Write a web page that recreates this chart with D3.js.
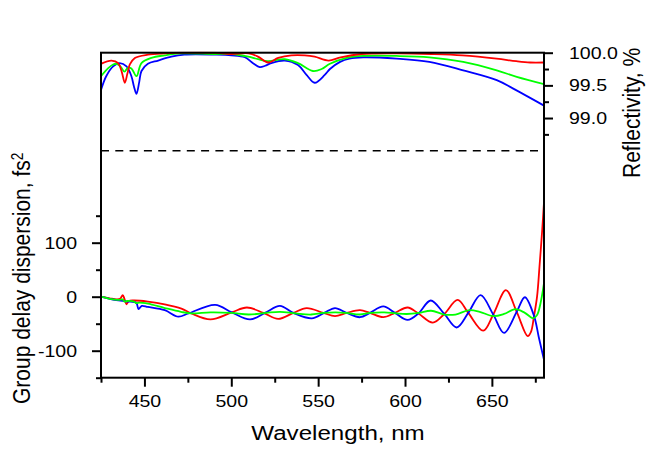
<!DOCTYPE html>
<html><head><meta charset="utf-8">
<script src="https://cdn.jsdelivr.net/npm/d3@7"></script>
<style>body{margin:0;background:#fff}svg{display:block}</style>
</head><body>
<script>
// ---- tick values ----
const wlTicksMajor = [450, 500, 550, 600, 650];
const wlTicksMinor = [425, 475, 525, 575, 625, 675];
const gddTicksMajor = [-100, 0, 100];
const gddTicksMinor = [-150, -50, 50, 150];
const reflTicksMajor = [99.0, 99.5, 100.0];
const reflTicksMinor = [98.75, 99.25, 99.75];

// ---- reflectivity (%) : [wavelength nm, R] ----
const reflRed = [[425,99.83],[431,99.88],[434.9,99.84],[437,99.70],[438.7,99.54],[440.2,99.68],[441.6,99.82],[444.5,99.92],[452,99.97],[462,99.99],[471.3,100.0],[490,100.0],[500,99.98],[510,99.99],[515.4,99.94],[521.2,99.85],[527,99.92],[534.6,99.96],[542.3,99.96],[548,99.94],[556,99.88],[563,99.93],[575,99.98],[595,99.99],[615,99.98],[633,99.96],[652.7,99.91],[664,99.87],[672,99.85],[680,99.85]];
const reflGreen = [[425,99.64],[429,99.76],[432,99.82],[434,99.83],[436.5,99.78],[438.5,99.71],[440.5,99.77],[442.5,99.76],[445.4,99.64],[448.3,99.84],[454,99.92],[461.7,99.96],[471,99.99],[490,99.98],[500,99.98],[509.7,99.94],[515.4,99.90],[521,99.87],[530.8,99.90],[538.4,99.84],[547,99.72],[552,99.75],[556.8,99.83],[566.5,99.92],[576,99.95],[595,99.95],[614,99.93],[633.5,99.86],[652.8,99.73],[664.3,99.63],[680,99.52]];
const reflBlue = [[425,99.43],[428,99.64],[432,99.79],[435.8,99.84],[439.7,99.79],[442.5,99.64],[444,99.48],[445.4,99.37],[447,99.55],[448.3,99.72],[452,99.83],[457.9,99.88],[465.5,99.94],[473,99.97],[490.5,99.97],[500,99.96],[507.8,99.93],[512.5,99.84],[516.4,99.78],[519.5,99.80],[523,99.84],[530.8,99.88],[538.4,99.81],[543.3,99.66],[548,99.54],[553.8,99.66],[556.8,99.75],[562.6,99.86],[568,99.91],[576,99.93],[595.2,99.91],[614,99.86],[633.5,99.73],[652.8,99.58],[662.3,99.45],[680,99.19]];

// ---- group delay dispersion (fs^2) : [wavelength nm, GDD] ----
const gddRed = [[425,0],[430,-3],[434,-5],[436,-4],[437.5,3],[438.5,-4],[439.7,-14],[441,-8],[444,-7],[452,-9],[461.7,-14],[471.3,-22],[477,-31],[488,-42],[500.3,-29],[509,-20],[518.5,-30],[527,-41],[535.7,-30],[543.4,-21],[553,-30],[559.7,-36],[566.4,-30],[574.1,-25],[579.8,-30],[587.5,-38],[594.2,-30],[601.5,-20],[607.7,-31],[616,-48],[622.6,-32],[630.3,-6],[636.4,-30],[645,-63],[650.8,-33],[658.1,12],[664.3,-28],[670.6,-73],[672.5,-65],[674.2,-37],[676,0],[677.5,60],[679,125],[680,175]];
const gddGreen = [[425,0],[430,-4],[435,-6],[437.5,-5],[438.5,-9],[440,-8],[444,-9],[445.5,-12],[447,-11],[452,-13],[461.7,-21],[471,-28],[477,-31],[488,-29],[500,-30],[510,-33],[520,-30],[528,-28],[537,-31],[546,-33],[553,-30],[560,-29],[566,-30],[574,-33],[580,-30],[588,-29],[595,-31],[601,-32],[608,-30],[615,-26],[622.6,-33],[629,-33],[637,-25],[643,-28],[650.8,-36],[657,-32],[663.5,-23],[669,-30],[673.8,-40],[676,-34],[678,-12],[680,25]];
const gddBlue = [[425,0],[430,-4],[435,-7],[440,-9],[444.5,-10],[445.6,-13],[446.6,-23],[448.5,-17],[452,-19],[461.7,-25],[469.5,-37],[475.3,-31],[490.7,-15],[500.3,-29],[510.8,-42],[519.4,-30],[528,-17],[535.7,-30],[546.3,-40],[553.5,-30],[559.7,-21],[566.4,-30],[574.1,-38],[579.8,-30],[587.5,-18],[594.2,-30],[601.5,-43],[607.7,-31],[614.8,-7],[622.6,-32],[629.7,-57],[636.4,-30],[643.5,3],[650.8,-33],[657,-67],[664.3,-28],[669,-1],[674.2,-35],[677,-75],[680,-117]];

// ---- layout ----
const FONT = "Arial, 'Liberation Sans', sans-serif";
const K = 1.15;            // horizontal text stretch seen in the reference
const TICK_FS = 17, TITLE_FS = 21;
const fmtInt = d => String(d);               // plain hyphen minus, like the reference
const fmt1 = d => d.toFixed(1);

const svg = d3.select("body").append("svg").attr("width", 650).attr("height", 453);

const x = d3.scaleLinear().domain([425, 680]).range([101, 544]);
const yR = d3.scaleLinear().domain([98.5, 100]).range([150.7, 52.7]);
const yG = d3.scaleLinear().domain([-150, 150]).range([377.7, 215.7]);

const [x0, x1] = x.range();
const yTop = yR.range()[1], yBot = yG.range()[0];

svg.append("defs").append("clipPath").attr("id", "clipR")
  .append("rect").attr("x", x0).attr("y", yTop - 1).attr("width", x1 - x0).attr("height", yR.range()[0] - yTop + 1);

// dashed separator at the bottom of the reflectivity scale
svg.append("line").attr("x1", x0).attr("x2", x1)
  .attr("y1", yR(yR.domain()[0])).attr("y2", yR(yR.domain()[0]))
  .attr("stroke", "#000").attr("stroke-width", 1.6).attr("stroke-dasharray", "8,6.3");

const lineR = d3.line().x(d => x(d[0])).y(d => yR(d[1])).curve(d3.curveCatmullRom.alpha(0.5));
const lineG = d3.line().x(d => x(d[0])).y(d => yG(d[1])).curve(d3.curveCatmullRom.alpha(0.5));

const gR = svg.append("g").attr("clip-path", "url(#clipR)");
[[reflBlue, "#0000ff"], [reflGreen, "#00ff00"], [reflRed, "#ff0000"]].forEach(([d, c]) => {
  gR.append("path").datum(d).attr("d", lineR).attr("fill", "none").attr("stroke", c).attr("stroke-width", 1.8);
});
[[gddRed, "#ff0000"], [gddBlue, "#0000ff"], [gddGreen, "#00ff00"]].forEach(([d, c]) => {
  svg.append("path").datum(d).attr("d", lineG).attr("fill", "none").attr("stroke", c).attr("stroke-width", 1.8);
});

// frame
svg.append("rect").attr("x", x0).attr("y", yTop).attr("width", x1 - x0).attr("height", yBot - yTop)
  .attr("fill", "none").attr("stroke", "#000").attr("stroke-width", 2);

function styleAxis(g) {
  g.select(".domain").remove();
  g.selectAll(".tick line").attr("stroke", "#000").attr("stroke-width", 2);
  g.selectAll("text").attr("font-family", FONT).attr("font-size", TICK_FS).attr("fill", "#000");
}

// bottom axis
const gxMaj = svg.append("g").attr("transform", `translate(0,${yBot})`)
  .call(d3.axisBottom(x).tickValues(wlTicksMajor).tickSize(9).tickSizeOuter(0).tickPadding(8).tickFormat(fmtInt));
styleAxis(gxMaj);
gxMaj.selectAll("text").attr("transform", `scale(${K},1)`);
const gxMin = svg.append("g").attr("transform", `translate(0,${yBot})`)
  .call(d3.axisBottom(x).tickValues(wlTicksMinor).tickSize(5).tickSizeOuter(0).tickFormat(""));
styleAxis(gxMin);

// left axis (GDD)
const gyMaj = svg.append("g").attr("transform", `translate(${x0},0)`)
  .call(d3.axisLeft(yG).tickValues(gddTicksMajor).tickSize(9).tickSizeOuter(0).tickFormat(fmtInt));
styleAxis(gyMaj);
gyMaj.selectAll("text").attr("x", -24 / K).attr("transform", `scale(${K},1)`);
const gyMin = svg.append("g").attr("transform", `translate(${x0},0)`)
  .call(d3.axisLeft(yG).tickValues(gddTicksMinor).tickSize(5).tickSizeOuter(0).tickFormat(""));
styleAxis(gyMin);

// right axis (reflectivity)
const grMaj = svg.append("g").attr("transform", `translate(${x1},0)`)
  .call(d3.axisRight(yR).tickValues(reflTicksMajor).tickSize(9).tickSizeOuter(0).tickFormat(fmt1));
styleAxis(grMaj);
grMaj.selectAll("text").attr("x", 25 / K).attr("transform", `scale(${K},1)`);
const grMin = svg.append("g").attr("transform", `translate(${x1},0)`)
  .call(d3.axisRight(yR).tickValues(reflTicksMinor).tickSize(5).tickSizeOuter(0).tickFormat(""));
styleAxis(grMin);

// titles
svg.append("text").attr("transform", `translate(338,440) scale(${K},1)`)
  .attr("text-anchor", "middle").attr("font-family", FONT).attr("font-size", TITLE_FS)
  .text("Wavelength, nm");

const lt = svg.append("text").attr("transform", `translate(30,404) rotate(-90) scale(1,${K})`)
  .attr("text-anchor", "start").attr("font-family", FONT).attr("font-size", TITLE_FS);
lt.append("tspan").text("Group delay dispersion, fs");
lt.append("tspan").attr("dy", "-0.45em").attr("font-size", TITLE_FS * 0.65).text("2");

svg.append("text").attr("transform", `translate(640,178) rotate(-90) scale(1,${K})`)
  .attr("text-anchor", "start").attr("font-family", FONT).attr("font-size", TITLE_FS)
  .text("Reflectivity, %");
</script>
</body></html>
